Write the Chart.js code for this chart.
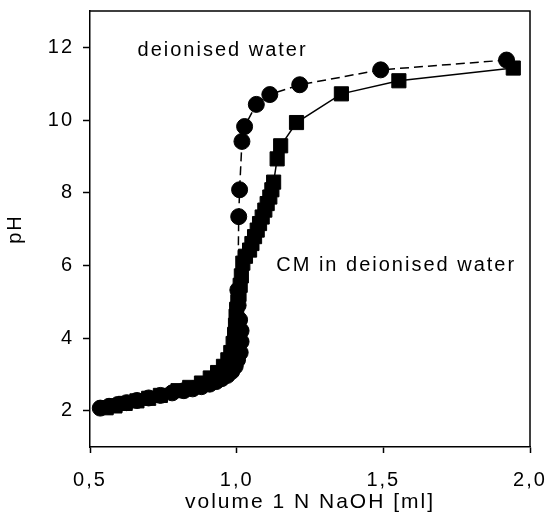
<!DOCTYPE html>
<html>
<head>
<meta charset="utf-8">
<script src="https://cdn.jsdelivr.net/npm/chart.js@4/dist/chart.umd.min.js"></script>
<style>
  html, body { margin: 0; padding: 0; background: #fff; }
  #wrap { width: 548px; height: 521px; }
</style>
</head>
<body>
<div id="wrap"><canvas id="chart"></canvas></div>
<script>
// Titration: volume of 1 N NaOH [ml] vs pH
const waterX = [0.535, 0.565, 0.595, 0.625, 0.66, 0.70, 0.74, 0.78, 0.82, 0.85, 0.88, 0.908, 0.93, 0.949, 0.968, 0.983, 0.995, 1.003, 1.012, 1.015, 1.015, 1.010, 1.005, 1.004, 1.007, 1.010, 1.018, 1.027, 1.067, 1.113, 1.215, 1.491, 1.920];
const waterPH = [2.07, 2.12, 2.17, 2.22, 2.28, 2.35, 2.42, 2.49, 2.55, 2.60, 2.66, 2.73, 2.80, 2.88, 2.97, 3.08, 3.22, 3.40, 3.60, 3.90, 4.20, 4.50, 4.90, 5.32, 7.34, 8.08, 9.41, 9.82, 10.43, 10.70, 10.97, 11.38, 11.65];

const cmX = [0.555, 0.585, 0.62, 0.66, 0.70, 0.74, 0.80, 0.84, 0.88, 0.91, 0.935, 0.955, 0.97, 0.98, 0.988, 0.993, 0.996, 0.998, 1.0, 1.004, 1.008, 1.012, 1.016, 1.021, 1.03, 1.044, 1.052, 1.061, 1.07, 1.078, 1.087, 1.096, 1.104, 1.113, 1.12, 1.126, 1.138, 1.150, 1.204, 1.357, 1.553, 1.943];
const cmPH = [2.08, 2.13, 2.20, 2.27, 2.34, 2.42, 2.55, 2.64, 2.76, 2.90, 3.05, 3.22, 3.40, 3.60, 3.85, 4.10, 4.35, 4.60, 4.79, 5.00, 5.20, 5.45, 5.71, 6.06, 6.25, 6.42, 6.60, 6.79, 6.97, 7.15, 7.33, 7.52, 7.70, 7.88, 8.08, 8.29, 8.93, 9.29, 9.93, 10.72, 11.08, 11.43];

const xTicks = [0.5, 1.0, 1.5, 2.0];
const xTickLabels = ['0,5', '1,0', '1,5', '2,0'];
const yTicks = [2, 4, 6, 8, 10, 12];

const toPoints = (xs, ys) => xs.map((x, i) => ({ x: x, y: ys[i] }));

Chart.defaults.font.family = '"Liberation Sans", Arial, sans-serif';
Chart.defaults.font.size = 20;
Chart.defaults.color = '#000';

// letter spacing for all canvas text
const spacing = {
    id: 'spacing',
    beforeLayout(chart) { chart.ctx.letterSpacing = '2px'; },
    beforeDraw(chart) { chart.ctx.letterSpacing = '2px'; }
};

// closes the frame (top and right) and writes the curve labels
const frame = {
    id: 'frame',
    afterDraw(chart) {
        const { ctx, chartArea: a, scales } = chart;
        ctx.save();
        ctx.strokeStyle = '#000';
        ctx.lineWidth = 1.5;
        ctx.beginPath();
        ctx.moveTo(a.left, a.top);
        ctx.lineTo(a.right, a.top);
        ctx.lineTo(a.right, a.bottom);
        ctx.stroke();

        ctx.letterSpacing = '2px';
        ctx.fillStyle = '#000';
        ctx.font = '20px "Liberation Sans", Arial, sans-serif';
        ctx.textAlign = 'left';
        ctx.textBaseline = 'middle';
        ctx.fillText('deionised water', scales.x.getPixelForValue(0.662), scales.y.getPixelForValue(11.9));
        ctx.fillText('CM in deionised water', scales.x.getPixelForValue(1.135), scales.y.getPixelForValue(6.0));
        ctx.restore();
    }
};

new Chart(document.getElementById('chart'), {
    type: 'scatter',
    data: {
        datasets: [{
            label: 'deionised water',
            data: toPoints(waterX, waterPH),
            showLine: true,
            borderColor: '#000',
            backgroundColor: '#000',
            borderWidth: 1.5,
            borderDash: [9, 5],
            pointStyle: 'circle',
            pointRadius: 8,
            pointBorderWidth: 1,
            pointHoverRadius: 8
        }, {
            label: 'CM in deionised water',
            data: toPoints(cmX, cmPH),
            showLine: true,
            borderColor: '#000',
            backgroundColor: '#000',
            borderWidth: 1.5,
            pointStyle: 'rect',
            pointRadius: 10,
            pointBorderWidth: 1,
            pointHoverRadius: 10
        }]
    },
    options: {
        responsive: true,
        maintainAspectRatio: false,
        animation: false,
        layout: { padding: { left: 0, top: 7, right: 18, bottom: 0 } },
        plugins: {
            legend: { display: false },
            tooltip: { enabled: false }
        },
        scales: {
            x: {
                type: 'linear',
                min: 0.5,
                max: 2.0,
                afterBuildTicks: s => { s.ticks = xTicks.map(v => ({ value: v })); },
                afterFit: s => { s.height = 74; s.paddingLeft = 0; s.paddingRight = 0; },
                border: { display: true, color: '#000', width: 1.5 },
                grid: { drawOnChartArea: false, drawTicks: true, tickLength: 6, tickColor: '#000', tickWidth: 1.5 },
                ticks: {
                    padding: 15,
                    maxRotation: 0,
                    callback: (v) => xTickLabels[xTicks.indexOf(v)]
                },
                title: {
                    display: true,
                    text: 'volume 1 N NaOH [ml]',
                    font: { size: 21 },
                    padding: { top: 0, bottom: 6 }
                }
            },
            y: {
                type: 'linear',
                min: 1,
                max: 13,
                afterBuildTicks: s => { s.ticks = yTicks.map(v => ({ value: v })); },
                afterFit: s => { s.width = 90; s.paddingTop = 0; s.paddingBottom = 0; },
                border: { display: true, color: '#000', width: 1.5 },
                grid: { drawOnChartArea: false, drawTicks: true, tickLength: 7, tickColor: '#000', tickWidth: 1.5 },
                ticks: { padding: 9 },
                title: {
                    display: true,
                    text: 'pH',
                    padding: { top: 3, bottom: 0 }
                }
            }
        }
    },
    plugins: [spacing, frame]
});
</script>
</body>
</html>
